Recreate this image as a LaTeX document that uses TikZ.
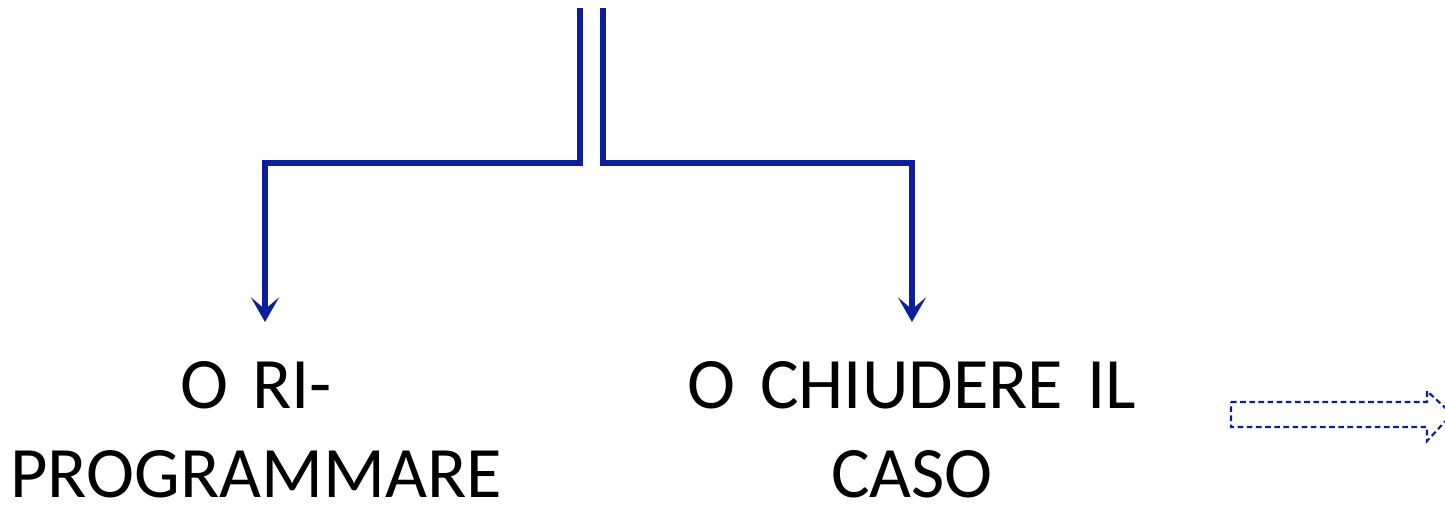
\documentclass[tikz,border=0pt]{standalone}
\usepackage{fontspec}
\setmainfont{Carlito}
\usetikzlibrary{arrows.meta}
\definecolor{flowblue}{RGB}{10,30,158}

\begin{document}
\begin{tikzpicture}[x=0.01cm, y=-0.01cm,
    flow/.style={draw=flowblue, line width=1.45pt, line join=miter, shorten >=0.39cm,
                 -{Stealth[length=7pt, width=8pt, inset=3.4pt]}},
    choice/.style={align=center, text width=6cm, inner sep=0, anchor=north,
                   font=\fontsize{20.6}{25.3}\selectfont}]
  \useasboundingbox (0,0) rectangle (1445,508);

  % the two branches coming down from above
  \coordinate (topL) at (580,8);
  \coordinate (topR) at (603,8);
  \coordinate (dropL) at (265,163);
  \coordinate (dropR) at (912,163);

  \node (riprog) at (256,361) [choice] {O RI-\\PROGRAMMARE};
  \node (chiudere) at (912,361) [choice] {O CHIUDERE IL\\CASO};

  \draw[flow] (topL) |- (dropL) -- (dropL |- riprog.north);
  \draw[flow] (topR) |- (dropR) -- (dropR |- chiudere.north);

  % dashed block arrow on the right edge
  \draw[flowblue, line width=0.6pt, dash pattern=on 1.6pt off 1pt]
    (1231,402) -- (1427,402) -- (1427,391) -- (1452,414) -- (1427,441) -- (1427,427) -- (1231,427) -- cycle;
\end{tikzpicture}
\end{document}
